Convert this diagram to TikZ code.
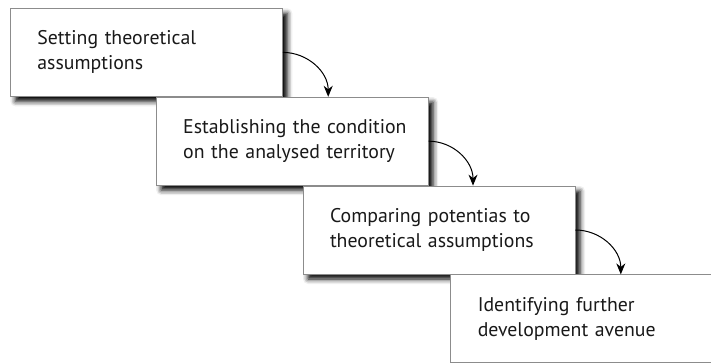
\documentclass[tikz,border=0pt]{standalone}
\usepackage{fontspec}
\setmainfont{PT Sans}
\usetikzlibrary{positioning, arrows.meta, shadows.blur}

\begin{document}
\begin{tikzpicture}[x=1pt, y=1pt,
    stepbox/.style={draw=black!45, line width=0.8pt, fill=white,
        minimum width=272pt, minimum height=88pt, inner xsep=0pt,
        text width=272pt, align=left, anchor=north west,
        execute at begin node={\leftskip=27pt\relax},
        font=\fontsize{19.8}{25}\selectfont, text=black!90,
        blur shadow={shadow xshift=5pt, shadow yshift=-5pt,
            shadow blur radius=5pt, shadow opacity=100, shadow blur extra rounding=0pt}},
    arr/.style={-{Stealth[length=11pt, width=9pt, inset=3.5pt]}, line width=1pt}]
    \useasboundingbox (0,0) rectangle (711,-363);
    \node[stepbox](s1) at (10,-8) {Setting theoretical\\assumptions};
    \node[stepbox](s2)[below right=0pt and -127pt of s1.south east] {Establishing the condition\\on the analysed territory};
    \node[stepbox](s3)[below right=0pt and -126pt of s2.south east] {Comparing potentias to\\theoretical assumptions};
    \node[stepbox](s4)[below right=0pt and -125pt of s3.south east] {Identifying further\\development avenue};
    \path[arr]
    (s1)    edge [out=0, in=90] ([xshift=36pt]s2.north)
    (s2)    edge [out=0, in=90] ([xshift=34pt]s3.north)
    (s3)    edge [out=0, in=90] ([xshift=34pt]s4.north);
\end{tikzpicture}
\end{document}
